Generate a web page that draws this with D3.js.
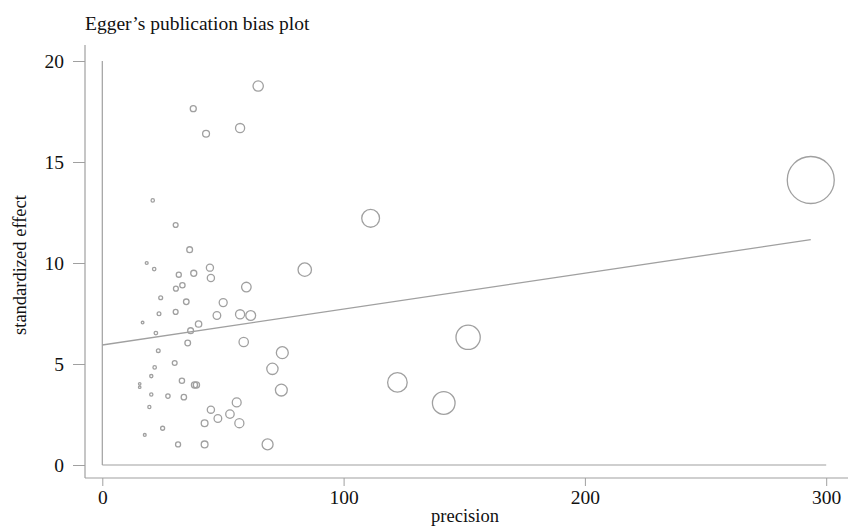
<!DOCTYPE html>
<html>
<head>
<meta charset="utf-8">
<script src="https://cdn.jsdelivr.net/npm/d3@7"></script>
<style>
  html, body { margin: 0; padding: 0; background: #fff; }
  svg { display: block; }
  text { font-family: "Liberation Serif", "Times New Roman", serif; fill: #111; }
</style>
</head>
<body>
<svg id="chart" width="848" height="526"></svg>
<script>
// Data: precision (x) and standardized effect (y) for each study
const precision = [64.6, 37.7, 57.1, 43.0, 20.9, 30.4, 36.2, 18.4, 21.5, 31.7,
  37.9, 44.6, 45.0, 33.2, 30.5, 59.7, 83.9, 111.2, 24.2, 34.8,
  50.1, 16.7, 23.5, 30.4, 47.5, 57.1, 61.5, 39.9, 36.6, 22.2,
  35.4, 58.6, 74.6, 23.2, 21.7, 30.0, 70.5, 74.2, 20.3, 15.5,
  15.5, 33.0, 38.2, 39.0, 20.3, 27.2, 33.8, 19.5, 55.7, 45.0,
  47.9, 52.9, 56.8, 42.4, 25.0, 17.6, 31.4, 42.4, 68.5, 122.3,
  141.5, 151.6, 293.6];
const stdEffect = [18.76, 17.64, 16.68, 16.40, 13.10, 11.88, 10.66, 10.00, 9.70, 9.42,
  9.49, 9.77, 9.26, 8.90, 8.73, 8.81, 9.67, 12.21, 8.28, 8.08,
  8.04, 7.05, 7.49, 7.58, 7.40, 7.46, 7.40, 6.98, 6.65, 6.53,
  6.04, 6.09, 5.56, 5.66, 4.83, 5.05, 4.76, 3.71, 4.40, 4.02,
  3.85, 4.17, 3.96, 3.96, 3.49, 3.41, 3.36, 2.87, 3.10, 2.74,
  2.30, 2.52, 2.07, 2.07, 1.82, 1.49, 1.02, 1.02, 1.02, 4.09,
  3.07, 6.32, 14.11];
// Egger regression line: intercept and slope
const eggerIntercept = 5.94;
const eggerSlope = 0.01777;
const xTicks = [0, 100, 200, 300];
const yTicks = [0, 5, 10, 15, 20];
const titleText = "Egger\u2019s publication bias plot";
const xLabel = "precision";
const yLabel = "standardized effect";

const svg = d3.select("#chart");
const grey = "#a0a0a0";

const x = d3.scaleLinear().domain([0, 300]).range([102.3, 826.2]);
const y = d3.scaleLinear().domain([0, 20]).range([465, 61]);
const maxP = d3.max(precision);
// marker area proportional to weight (precision^2) -> radius proportional to precision
const r = d3.scaleSqrt().domain([0, maxP * maxP]).range([0, 23.5]);

// Title
svg.append("text").attr("x", 85).attr("y", 30)
  .attr("font-size", 19.5).text(titleText);

// Outer y axis
const yAxisX = 85;
const yAxis = d3.axisLeft(y).tickValues(yTicks).tickFormat(d3.format("d"))
  .tickSize(12).tickPadding(9);
const gy = svg.append("g").attr("transform", `translate(${yAxisX},0)`).call(yAxis);
gy.select(".domain").remove();
gy.selectAll(".tick line").attr("stroke", grey);
gy.selectAll(".tick text").attr("font-size", 19.5)
  .attr("font-family", "Liberation Serif, serif").attr("fill", "#111");
svg.append("line").attr("x1", yAxisX).attr("x2", yAxisX).attr("y1", 45).attr("y2", 478)
  .attr("stroke", grey).attr("stroke-width", 1.2);

// Outer x axis
const xAxisY = 478;
const xAxis = d3.axisBottom(x).tickValues(xTicks).tickFormat(d3.format("d"))
  .tickSize(8).tickPadding(4);
const gx = svg.append("g").attr("transform", `translate(0,${xAxisY})`).call(xAxis);
gx.select(".domain").remove();
gx.selectAll(".tick line").attr("stroke", grey);
gx.selectAll(".tick text").attr("font-size", 19.5)
  .attr("font-family", "Liberation Serif, serif").attr("fill", "#111");
svg.append("line").attr("x1", yAxisX).attr("x2", 848).attr("y1", xAxisY).attr("y2", xAxisY)
  .attr("stroke", grey).attr("stroke-width", 1.2);

// Axis titles
svg.append("text").attr("x", 465).attr("y", 522).attr("text-anchor", "middle")
  .attr("font-size", 18.5).text(xLabel);
svg.append("text").attr("transform", "translate(26,265) rotate(-90)")
  .attr("text-anchor", "middle").attr("font-size", 18.5).text(yLabel);

// Inner reference lines (x=0 and y=0)
svg.append("line").attr("x1", x(0)).attr("x2", x(0)).attr("y1", y(20)).attr("y2", y(0))
  .attr("stroke", grey).attr("stroke-width", 1.2);
svg.append("line").attr("x1", x(0)).attr("x2", x(300)).attr("y1", y(0)).attr("y2", y(0))
  .attr("stroke", grey).attr("stroke-width", 1.2);

// Egger regression line
svg.append("line")
  .attr("x1", x(0)).attr("y1", y(eggerIntercept))
  .attr("x2", x(maxP)).attr("y2", y(eggerIntercept + eggerSlope * maxP))
  .attr("stroke", grey).attr("stroke-width", 1.3);

// Study markers
const pts = precision.map((p, i) => ({ p, e: stdEffect[i] }));
svg.append("g").selectAll("circle").data(pts).join("circle")
  .attr("cx", d => x(d.p)).attr("cy", d => y(d.e))
  .attr("r", d => Math.max(1.2, r(d.p * d.p)))
  .attr("fill", "none").attr("stroke", grey).attr("stroke-width", 1.3);
</script>
</body>
</html>
